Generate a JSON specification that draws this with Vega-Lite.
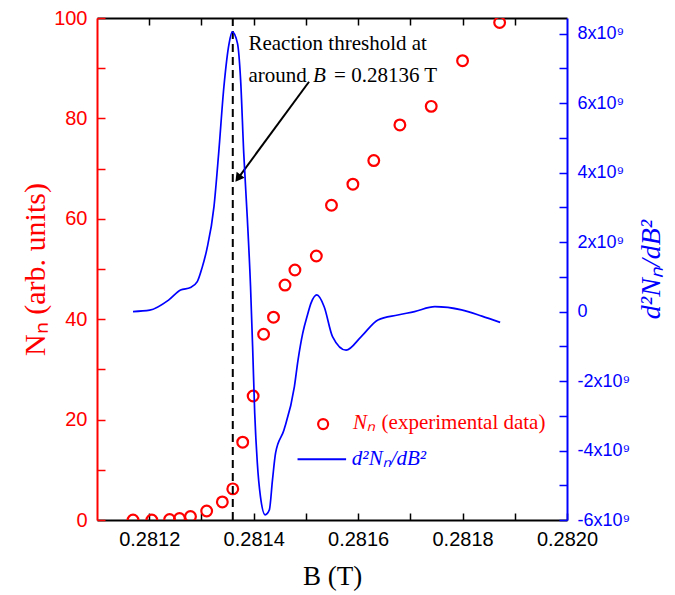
{
  "$schema": "https://vega.github.io/schema/vega-lite/v6.json",
  "width": 470,
  "height": 502,
  "autosize": {"type": "none"},
  "padding": {"left": 97, "top": 18, "right": 108, "bottom": 75},
  "background": "white",
  "config": {
    "view": {"stroke": null},
    "axis": {"grid": false, "labelFont": "Liberation Sans", "titleFont": "Liberation Serif", "titleFontWeight": "normal", "labelFlush": false, "labelOverlap": false, "domainWidth": 2, "tickWidth": 1.5}
  },
  "datasets": {
    "nn": [
      {"B": 0.281169, "N": 0}, {"B": 0.281205, "N": 0}, {"B": 0.281239, "N": 0.1}, {"B": 0.281258, "N": 0.3},
      {"B": 0.281279, "N": 0.7}, {"B": 0.28131, "N": 1.8}, {"B": 0.28134, "N": 3.6}, {"B": 0.28136, "N": 6.2},
      {"B": 0.281379, "N": 15.5}, {"B": 0.281399, "N": 24.7}, {"B": 0.281419, "N": 37.0}, {"B": 0.281438, "N": 40.4},
      {"B": 0.28146, "N": 46.8}, {"B": 0.281479, "N": 49.8}, {"B": 0.28152, "N": 52.6}, {"B": 0.281549, "N": 62.7},
      {"B": 0.28159, "N": 66.9}, {"B": 0.28163, "N": 71.6}, {"B": 0.28168, "N": 78.7}, {"B": 0.28174, "N": 82.4},
      {"B": 0.2818, "N": 91.5}, {"B": 0.281871, "N": 99.1}
    ],
    "d2": [
      {"B": 0.281169, "D": 0}, {"B": 0.281201, "D": 0.04e9}, {"B": 0.281237, "D": 0.33e9}, {"B": 0.28126, "D": 0.62e9},
      {"B": 0.281279, "D": 0.69e9}, {"B": 0.281292, "D": 0.86e9}, {"B": 0.281301, "D": 1.25e9}, {"B": 0.28131, "D": 1.77e9},
      {"B": 0.281324, "D": 3.02e9}, {"B": 0.281333, "D": 4.56e9}, {"B": 0.281343, "D": 6.47e9}, {"B": 0.281353, "D": 7.72e9},
      {"B": 0.281359, "D": 8.05e9}, {"B": 0.281369, "D": 7.72e9}, {"B": 0.281375, "D": 6.67e9}, {"B": 0.281381, "D": 4.56e9},
      {"B": 0.281388, "D": 2.64e9}, {"B": 0.281394, "D": 0.72e9}, {"B": 0.281398, "D": -1.01e9}, {"B": 0.281402, "D": -2.92e9},
      {"B": 0.281407, "D": -4.36e9}, {"B": 0.281413, "D": -5.33e9}, {"B": 0.281422, "D": -5.85e9}, {"B": 0.28143, "D": -5.71e9},
      {"B": 0.281436, "D": -4.85e9}, {"B": 0.281442, "D": -4.07e9}, {"B": 0.281458, "D": -3.41e9}, {"B": 0.281478, "D": -2.16e9},
      {"B": 0.281485, "D": -1.39e9}, {"B": 0.281494, "D": -0.62e9}, {"B": 0.281503, "D": -0.1e9}, {"B": 0.28151, "D": 0.25e9},
      {"B": 0.281521, "D": 0.48e9}, {"B": 0.281535, "D": 0.14e9}, {"B": 0.281551, "D": -0.72e9}, {"B": 0.281577, "D": -1.11e9},
      {"B": 0.281606, "D": -0.72e9}, {"B": 0.281638, "D": -0.24e9}, {"B": 0.281676, "D": -0.1e9}, {"B": 0.281708, "D": 0.0},
      {"B": 0.281747, "D": 0.14e9}, {"B": 0.281798, "D": 0.05e9}, {"B": 0.281837, "D": -0.13e9}, {"B": 0.281872, "D": -0.31e9}
    ],
    "threshold": [{"B": 0.28136}],
    "arrow": [{"B": 0.281506, "N": 87.3, "B2": 0.28137, "N2": 68.07}],
    "arrowhead": [{"B": 0.28137, "N": 68.07}],
    "legendPoint": [{"B": 0.281533, "N": 19.1}],
    "legendLine": [{"B": 0.281484, "B2": 0.281577, "N": 12.1}],
    "notesPlain": [
      {"B": 0.28139, "N": 93.6, "t": "Reaction threshold at"},
      {"B": 0.28139, "N": 87.2, "t": "around"},
      {"B": 0.281554, "N": 87.2, "t": "= 0.28136 T"}
    ],
    "notesItalic": [{"B": 0.2815135, "N": 87.2, "t": "B"}],
    "legendRedItalic": [{"B": 0.28159, "N": 18.1, "t": "Nₙ"}],
    "legendRedPlain": [{"B": 0.281645, "N": 18.1, "t": "(experimental data)"}],
    "legendBlueItalic": [{"B": 0.281588, "N": 10.9, "t": "d²Nₙ/dB²"}]
  },
  "layer": [
    {
      "layer": [
        {
          "data": {"name": "nn"},
          "mark": {"type": "point", "shape": "circle", "filled": false, "color": "#ff0000", "size": 115, "strokeWidth": 2.2, "opacity": 1, "clip": true},
          "encoding": {
            "x": {"field": "B", "type": "quantitative", "scale": {"domain": [0.2811, 0.282], "nice": false, "zero": false},
              "axis": {"orient": "bottom", "values": [0.2812, 0.2813, 0.2814, 0.2815, 0.2816, 0.2817, 0.2818, 0.2819, 0.282],
                "format": ".4f", "labelExpr": "round(datum.value*10000)%2==0 ? datum.label : ''",
                "title": "B (T)", "titleFontSize": 27, "titlePadding": 14, "titleColor": "black",
                "tickSize": -7, "labelPadding": 16, "labelFontSize": 20, "labelColor": "black", "domainColor": "black", "tickColor": "black"}},
            "y": {"field": "N", "type": "quantitative", "scale": {"domain": [0, 100], "nice": false, "zero": false},
              "axis": {"orient": "left", "values": [0, 10, 20, 30, 40, 50, 60, 70, 80, 90, 100],
                "labelExpr": "datum.value%20==0 ? datum.label : ''",
                "title": "Nₙ (arb. units)", "titleFontSize": 30, "titlePadding": 3, "titleColor": "#ff0000",
                "tickSize": -8, "labelPadding": 18, "labelFontSize": 20, "labelColor": "#ff0000", "domainColor": "#ff0000", "tickColor": "#ff0000"}}
          }
        },
        {
          "data": {"name": "threshold"},
          "mark": {"type": "rule", "color": "black", "strokeWidth": 2, "strokeDash": [8, 5]},
          "encoding": {"x": {"field": "B", "type": "quantitative", "scale": {"domain": [0.2811, 0.282], "nice": false, "zero": false}}}
        },
        {
          "data": {"name": "arrow"},
          "mark": {"type": "rule", "color": "black", "strokeWidth": 2},
          "encoding": {
            "x": {"field": "B", "type": "quantitative", "scale": {"domain": [0.2811, 0.282], "nice": false, "zero": false}},
            "y": {"field": "N", "type": "quantitative", "scale": {"domain": [0, 100], "nice": false, "zero": false}},
            "x2": {"field": "B2"},
            "y2": {"field": "N2"}
          }
        },
        {
          "data": {"name": "arrowhead"},
          "mark": {"type": "point", "shape": "triangle-up", "filled": true, "color": "black", "size": 100, "angle": 216.8, "opacity": 1},
          "encoding": {
            "x": {"field": "B", "type": "quantitative", "scale": {"domain": [0.2811, 0.282], "nice": false, "zero": false}},
            "y": {"field": "N", "type": "quantitative", "scale": {"domain": [0, 100], "nice": false, "zero": false}}
          }
        },
        {
          "data": {"name": "legendPoint"},
          "mark": {"type": "point", "shape": "circle", "filled": false, "color": "#ff0000", "size": 100, "strokeWidth": 2.2, "opacity": 1},
          "encoding": {
            "x": {"field": "B", "type": "quantitative", "scale": {"domain": [0.2811, 0.282], "nice": false, "zero": false}},
            "y": {"field": "N", "type": "quantitative", "scale": {"domain": [0, 100], "nice": false, "zero": false}}
          }
        },
        {
          "data": {"name": "legendLine"},
          "mark": {"type": "rule", "color": "#0000ff", "strokeWidth": 1.8},
          "encoding": {
            "x": {"field": "B", "type": "quantitative", "scale": {"domain": [0.2811, 0.282], "nice": false, "zero": false}},
            "x2": {"field": "B2"},
            "y": {"field": "N", "type": "quantitative", "scale": {"domain": [0, 100], "nice": false, "zero": false}}
          }
        },
        {
          "data": {"name": "notesPlain"},
          "mark": {"type": "text", "align": "left", "baseline": "alphabetic", "font": "Liberation Serif", "fontSize": 21, "color": "black"},
          "encoding": {
            "x": {"field": "B", "type": "quantitative", "scale": {"domain": [0.2811, 0.282], "nice": false, "zero": false}},
            "y": {"field": "N", "type": "quantitative", "scale": {"domain": [0, 100], "nice": false, "zero": false}},
            "text": {"field": "t"}
          }
        },
        {
          "data": {"name": "notesItalic"},
          "mark": {"type": "text", "align": "left", "baseline": "alphabetic", "font": "Liberation Serif", "fontStyle": "italic", "fontSize": 21, "color": "black"},
          "encoding": {
            "x": {"field": "B", "type": "quantitative", "scale": {"domain": [0.2811, 0.282], "nice": false, "zero": false}},
            "y": {"field": "N", "type": "quantitative", "scale": {"domain": [0, 100], "nice": false, "zero": false}},
            "text": {"field": "t"}
          }
        },
        {
          "data": {"name": "legendRedItalic"},
          "mark": {"type": "text", "align": "left", "baseline": "alphabetic", "font": "Liberation Serif", "fontStyle": "italic", "fontSize": 21, "color": "#ff0000"},
          "encoding": {
            "x": {"field": "B", "type": "quantitative", "scale": {"domain": [0.2811, 0.282], "nice": false, "zero": false}},
            "y": {"field": "N", "type": "quantitative", "scale": {"domain": [0, 100], "nice": false, "zero": false}},
            "text": {"field": "t"}
          }
        },
        {
          "data": {"name": "legendRedPlain"},
          "mark": {"type": "text", "align": "left", "baseline": "alphabetic", "font": "Liberation Serif", "fontSize": 21, "color": "#ff0000"},
          "encoding": {
            "x": {"field": "B", "type": "quantitative", "scale": {"domain": [0.2811, 0.282], "nice": false, "zero": false}},
            "y": {"field": "N", "type": "quantitative", "scale": {"domain": [0, 100], "nice": false, "zero": false}},
            "text": {"field": "t"}
          }
        },
        {
          "data": {"name": "legendBlueItalic"},
          "mark": {"type": "text", "align": "left", "baseline": "alphabetic", "font": "Liberation Serif", "fontStyle": "italic", "fontSize": 21, "color": "#0000ff"},
          "encoding": {
            "x": {"field": "B", "type": "quantitative", "scale": {"domain": [0.2811, 0.282], "nice": false, "zero": false}},
            "y": {"field": "N", "type": "quantitative", "scale": {"domain": [0, 100], "nice": false, "zero": false}},
            "text": {"field": "t"}
          }
        }
      ]
    },
    {
      "data": {"name": "d2"},
      "mark": {"type": "line", "color": "#0000ff", "strokeWidth": 1.7, "interpolate": "monotone"},
      "encoding": {
        "x": {"field": "B", "type": "quantitative", "scale": {"domain": [0.2811, 0.282], "nice": false, "zero": false},
          "axis": {"orient": "top", "values": [0.2812, 0.2813, 0.2814, 0.2815, 0.2816, 0.2817, 0.2818, 0.2819],
            "labels": false, "title": null, "tickSize": -7, "domainColor": "black", "tickColor": "black"}},
        "y": {"field": "D", "type": "quantitative", "scale": {"domain": [-6e9, 8.45e9], "nice": false, "zero": false},
          "axis": {"orient": "right", "values": [-6e9, -5e9, -4e9, -3e9, -2e9, -1e9, 0, 1e9, 2e9, 3e9, 4e9, 5e9, 6e9, 7e9, 8e9],
            "labelExpr": "round(datum.value/1e9)%2==0 ? (datum.value==0 ? '0' : (datum.value<0 ? '-' : '') + abs(round(datum.value/1e9)) + 'x10⁹') : ''",
            "title": "d²Nₙ/dB²", "titleFontStyle": "italic", "titleAngle": 270, "titleFontSize": 28, "titlePadding": 36, "titleColor": "#0000ff",
            "tickSize": -8, "labelPadding": 18, "labelFontSize": 18, "labelColor": "#0000ff", "domainColor": "#0000ff", "tickColor": "#0000ff"}}
      }
    }
  ],
  "resolve": {"scale": {"y": "independent"}, "axis": {"x": "independent"}}
}
